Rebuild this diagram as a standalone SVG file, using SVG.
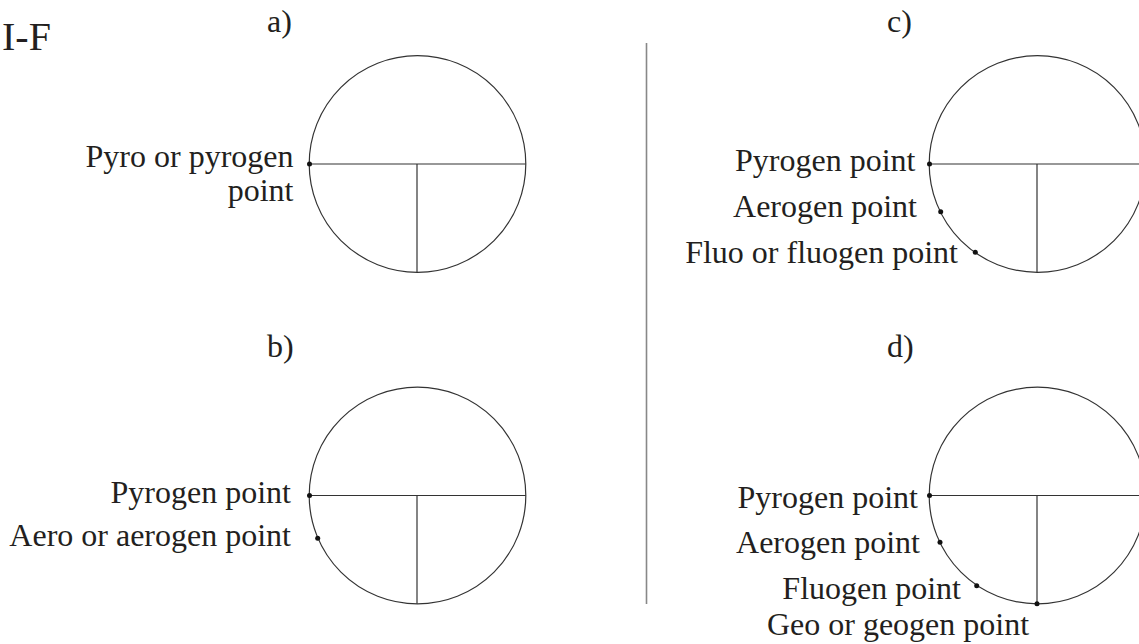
<svg xmlns="http://www.w3.org/2000/svg" width="1139" height="644" viewBox="0 0 1139 644">
<style>
.c{fill:none;stroke:#333;stroke-width:1.2}
.l{stroke:#333;stroke-width:1.2}
.d{fill:#111}
text{font-family:"Liberation Serif","Times New Roman",serif;font-size:32px;fill:#231f20}
.e{text-anchor:end}
.m{text-anchor:middle}
</style>
<rect width="1139" height="644" fill="#fff"/>
<text x="2" y="50" style="font-size:40px">I-F</text>
<g id="divider"><line x1="646.5" y1="43" x2="646.5" y2="604" stroke="#888" stroke-width="1.6"/></g>
<g id="panel-a">
<text x="267" y="32">a)</text>
<circle class="c" cx="417.5" cy="164" r="108.3"/>
<line class="l" x1="309.2" y1="164" x2="525.8" y2="164"/>
<line class="l" x1="417" y1="164" x2="417" y2="272.3"/>
<circle class="d" cx="309.5" cy="164" r="2.5"/>
<text class="e" x="293.5" y="167">Pyro or pyrogen</text>
<text class="e" x="293.5" y="201">point</text>
</g>
<g id="panel-b">
<text x="267" y="357">b)</text>
<circle class="c" cx="417.5" cy="495.5" r="108.3"/>
<line class="l" x1="309.2" y1="495.5" x2="525.8" y2="495.5"/>
<line class="l" x1="417" y1="495.5" x2="417" y2="603.8"/>
<circle class="d" cx="309.5" cy="495.5" r="2.5"/>
<circle class="d" cx="317.7" cy="538.3" r="2.5"/>
<text class="e" x="291" y="503">Pyrogen point</text>
<text class="e" x="291" y="546">Aero or aerogen point</text>
</g>
<g id="panel-c">
<text x="887" y="32">c)</text>
<circle class="c" cx="1037.5" cy="164" r="108.3"/>
<line class="l" x1="929.2" y1="164" x2="1145.8" y2="164"/>
<line class="l" x1="1037" y1="164" x2="1037" y2="272.3"/>
<circle class="d" cx="929.5" cy="164" r="2.5"/>
<circle class="d" cx="940.7" cy="211.7" r="2.5"/>
<circle class="d" cx="975.3" cy="252.3" r="2.5"/>
<text class="e" x="915.5" y="170.5">Pyrogen point</text>
<text class="e" x="917" y="216.5">Aerogen point</text>
<text class="e" x="958" y="262.5">Fluo or fluogen point</text>
</g>
<g id="panel-d">
<text x="887" y="357">d)</text>
<circle class="c" cx="1037.5" cy="495.5" r="108.3"/>
<line class="l" x1="929.2" y1="495.5" x2="1145.8" y2="495.5"/>
<line class="l" x1="1037" y1="495.5" x2="1037" y2="603.8"/>
<circle class="d" cx="929.5" cy="495.5" r="2.5"/>
<circle class="d" cx="940" cy="542.3" r="2.5"/>
<circle class="d" cx="976.7" cy="585.7" r="2.5"/>
<circle class="d" cx="1037" cy="603.8" r="2.5"/>
<text class="e" x="918" y="508">Pyrogen point</text>
<text class="e" x="920" y="553">Aerogen point</text>
<text class="e" x="961" y="599">Fluogen point</text>
<text class="m" x="898" y="635">Geo or geogen point</text>
</g>
</svg>
